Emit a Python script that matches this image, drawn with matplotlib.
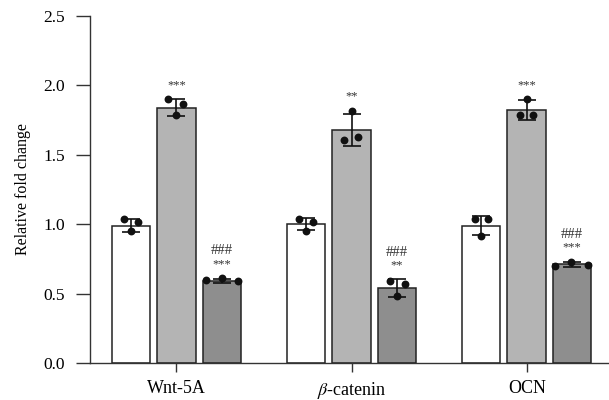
import numpy as np
import matplotlib
matplotlib.use('Agg')
import matplotlib.pyplot as plt

plt.rcParams['font.family'] = ['Liberation Serif', 'DejaVu Serif']
plt.rcParams['mathtext.fontset'] = 'stix'

genes = ['Wnt-5A', r'$\beta$-catenin', 'OCN']

# bar heights (mean) and SD for the three groups in each gene
means_ctrl = [0.99, 1.00, 0.99]
means_mid = [1.84, 1.68, 1.82]
means_low = [0.59, 0.54, 0.71]
sd_ctrl = [0.045, 0.043, 0.07]
sd_mid = [0.06, 0.115, 0.072]
sd_low = [0.012, 0.062, 0.015]

# individual points (n = 3)
pts_ctrl = [[1.035, 1.014, 0.951], [1.037, 1.018, 0.951], [1.035, 1.035, 0.917]]
pts_mid = [[1.90, 1.864, 1.79], [1.816, 1.626, 1.607], [1.90, 1.787, 1.787]]
pts_low = [[0.596, 0.61, 0.589], [0.593, 0.569, 0.48], [0.70, 0.727, 0.708]]

# significance marks
stars_mid = ['***', '**', '***']
stars_low = ['***', '**', '***']
hash_low = ['###', '###', '###']

# horizontal spread of dots inside each bar (scatter layout)
jitter_ctrl = [[-0.04, 0.04, 0.0], [-0.043, 0.037, 0.0], [-0.037, 0.039, 0.0]]
jitter_mid = [[-0.046, 0.04, 0.0], [0.0, 0.037, -0.042], [0.0, -0.037, 0.037]]
jitter_low = [[-0.094, 0.0, 0.094], [-0.04, 0.043, 0.0], [-0.098, -0.006, 0.092]]

fig = plt.figure(figsize=(6.09, 4.0), dpi=100)
ax = fig.add_axes([0.148, 0.0925, 0.852, 0.8675])

x = np.arange(len(genes))
off = 0.26
w = 0.22
colors = ['white', '#b4b4b4', '#8e8e8e']
edge = '#222222'

groups = [
    (means_ctrl, sd_ctrl, pts_ctrl, jitter_ctrl),
    (means_mid, sd_mid, pts_mid, jitter_mid),
    (means_low, sd_low, pts_low, jitter_low),
]

for k, (m, s, p, j) in enumerate(groups):
    xs = x + (k - 1) * off
    ax.bar(xs, m, width=w, color=colors[k], edgecolor=edge, linewidth=1.1, zorder=2)
    ax.errorbar(xs, m, yerr=s, fmt='none', ecolor='#111111', elinewidth=1.2,
                capsize=6.5, capthick=1.2, zorder=3)
    for i in range(len(genes)):
        ax.scatter(xs[i] + np.array(j[i]), p[i], s=32, color='#111111', zorder=4,
                   linewidths=0)

# significance text
for i in range(len(genes)):
    xm = x[i]
    top = max(means_mid[i] + sd_mid[i], max(pts_mid[i]))
    ax.annotate(stars_mid[i], (xm, top), xytext=(0, 6), textcoords='offset points',
                ha='center', va='bottom', fontsize=9, color='#333333')
    xl = x[i] + off
    top = max(means_low[i] + sd_low[i], max(pts_low[i]))
    ax.annotate(stars_low[i], (xl, top), xytext=(0, 6), textcoords='offset points',
                ha='center', va='bottom', fontsize=9, color='#333333')
    ax.annotate(hash_low[i], (xl, top), xytext=(0, 15), textcoords='offset points',
                ha='center', va='bottom', fontsize=10.5, color='#333333')

ax.set_xlim(-0.493, 2.47)
ax.set_ylim(0, 2.5)
ax.set_yticks([0.0, 0.5, 1.0, 1.5, 2.0, 2.5])
ax.set_yticklabels(['0.0', '0.5', '1.0', '1.5', '2.0', '2.5'])
ax.set_xticks(x)
ax.set_xticklabels(genes)
ax.set_ylabel('Relative fold change', fontsize=11.5, labelpad=9)

for side in ['top', 'right']:
    ax.spines[side].set_visible(False)
for side in ['left', 'bottom']:
    ax.spines[side].set_color('#333333')
    ax.spines[side].set_linewidth(1.0)
ax.tick_params(axis='y', length=10, width=1.0, color='#333333', labelsize=12.5, pad=8)
ax.tick_params(axis='x', length=6.5, width=1.0, color='#333333', labelsize=13, pad=6)

plt.savefig('out.png', dpi=100)
